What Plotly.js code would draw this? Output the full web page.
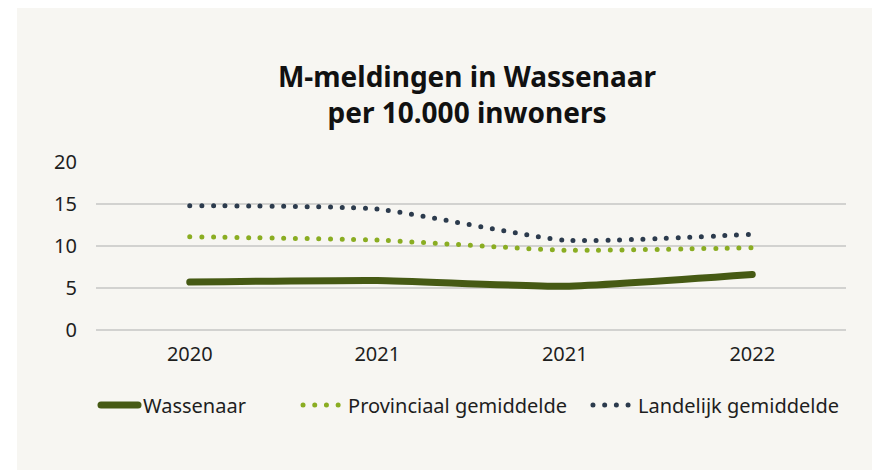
<!DOCTYPE html>
<html>
<head>
<meta charset="utf-8">
<script src="https://cdn.plot.ly/plotly-3.0.1.min.js"></script>
<style>
  html, body { margin: 0; padding: 0; background: #ffffff; width: 872px; height: 470px; overflow: hidden; }
  #chart { position: absolute; left: 17px; top: 8px; width: 855px; height: 462px; }
  #chart .js-line { stroke-linecap: round; stroke-linejoin: round; }
</style>
</head>
<body>
<div id="chart"></div>
<script>
const categories = ['2020', '2021', '2021', '2022'];
const wassenaar = [5.7, 5.9, 5.2, 6.6];
const provinciaal = [11.1, 10.7, 9.5, 9.8];
const landelijk = [14.8, 14.4, 10.7, 11.4];
const seriesNames = ['Wassenaar', 'Provinciaal gemiddelde', 'Landelijk gemiddelde'];
const yTicks = [0, 5, 10, 15, 20];

const xIdx = categories.map((c, i) => i);
const FONT = 'Noto Sans, sans-serif';

const traces = [
  { x: xIdx, y: wassenaar, name: seriesNames[0], mode: 'lines', legend: 'legend',
    line: { color: '#465a14', width: 7, shape: 'spline', smoothing: 0.5 }, hoverinfo: 'skip' },
  { x: xIdx, y: provinciaal, name: seriesNames[1], mode: 'lines', legend: 'legend2',
    line: { color: '#8aad22', width: 5, dash: '0px,11.7px', shape: 'spline', smoothing: 0.5 }, hoverinfo: 'skip' },
  { x: xIdx, y: landelijk, name: seriesNames[2], mode: 'lines', legend: 'legend3',
    line: { color: '#2c3b4d', width: 5, dash: '0px,11.7px', shape: 'spline', smoothing: 0.5 }, hoverinfo: 'skip' }
];

const legendBase = {
  orientation: 'h', xref: 'container', yref: 'container', xanchor: 'left', yanchor: 'middle',
  y: 0.1407, bgcolor: 'rgba(0,0,0,0)', font: { family: FONT, size: 20, color: '#1e1e1e' }
};

const layout = {
  width: 855, height: 462,
  paper_bgcolor: '#f7f6f2', plot_bgcolor: '#f7f6f2',
  margin: { l: 79, r: 26, t: 154, b: 140 },
  title: {
    text: '<b>M-meldingen in Wassenaar<br>per 10.000 inwoners</b>',
    font: { family: FONT, size: 28, color: '#111111' },
    xref: 'container', x: 0.5263, xanchor: 'center',
    yref: 'container', y: 0.829, yanchor: 'middle'
  },
  xaxis: {
    range: [-0.5, 3.5], tickmode: 'array', tickvals: xIdx, ticktext: categories,
    showgrid: false, zeroline: false, showline: false, ticks: '',
    tickfont: { family: FONT, size: 20, color: '#1e1e1e' }, ticklabelstandoff: 10, fixedrange: true
  },
  yaxis: {
    range: [0, 20], tickmode: 'array', tickvals: yTicks, ticktext: yTicks.map(String),
    showgrid: true, gridcolor: '#d2d2d0', gridwidth: 1.2,
    zeroline: true, zerolinecolor: '#d2d2d0', zerolinewidth: 1.2, showline: false, ticks: '',
    tickfont: { family: FONT, size: 20, color: '#1e1e1e' }, ticklabelstandoff: 18, fixedrange: true
  },
  showlegend: true,
  legend: Object.assign({}, legendBase, { x: 0.0924, itemwidth: 37 }),
  legend2: Object.assign({}, legendBase, { x: 0.3287, itemwidth: 40 }),
  legend3: Object.assign({}, legendBase, { x: 0.6678, itemwidth: 40 })
};

Plotly.newPlot('chart', traces, layout, { displayModeBar: false, staticPlot: true });
</script>
</body>
</html>
